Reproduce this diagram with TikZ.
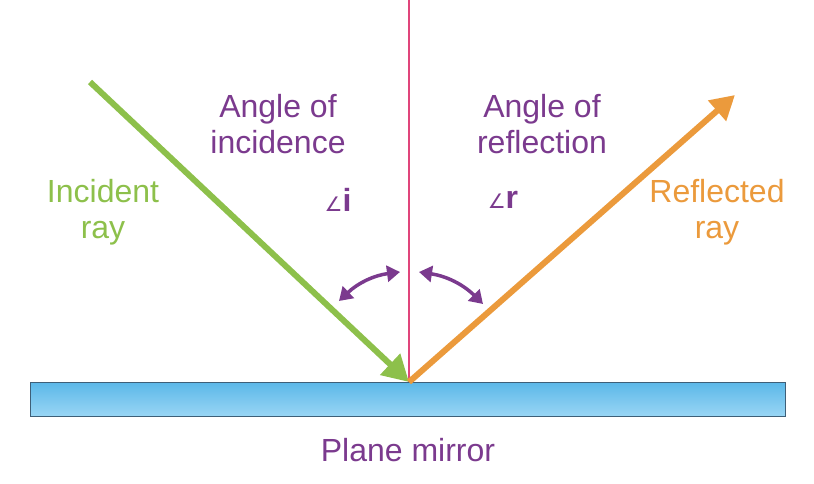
\documentclass[tikz,border=0pt]{standalone}
\usepackage{fontspec}
\setmainfont{Liberation Sans}
\newfontfamily\symfont{DejaVu Sans}
\usetikzlibrary{arrows.meta}
\definecolor{rgreen}{HTML}{8DC04B}
\definecolor{rorange}{HTML}{EB9A3C}
\definecolor{rpurple}{HTML}{7B3A8E}
\definecolor{rpink}{HTML}{E0457B}
\definecolor{mtop}{HTML}{5CB8E8}
\definecolor{mbot}{HTML}{9AD6F5}
\definecolor{mborder}{HTML}{3E5F78}
\tikzset{
  lbl/.style={font=\fontsize{32}{36}\selectfont, align=center, inner sep=0pt},
  ray/.style={line width=6pt},
  angarr/.style={rpurple, line width=3.5pt, {Triangle[length=13pt,width=16pt]}-{Triangle[length=13pt,width=16pt]}}
}
\begin{document}
\begin{tikzpicture}[x=1pt,y=-1pt]
\useasboundingbox (0,0) rectangle (814,484);
\node[draw=mborder, line width=1.2pt, top color=mtop, bottom color=mbot, minimum width=755pt, minimum height=34pt, anchor=north west, inner sep=0pt] (mirror) at (30,382) {};
\coordinate (O) at (409,382);
\coordinate (N) at (409,0);
\coordinate (S) at (90,82);
\coordinate (E) at (735,95);
\draw[rpink, line width=1.5pt] (O) -- (N);
\draw[ray, rgreen, -{Triangle[length=26pt,width=28pt]}] (S) -- (O);
\draw[ray, rorange, -{Triangle[length=24pt,width=26pt]}] (O) -- (E);
\coordinate (a1) at (339,301);
\coordinate (a2) at (400,272);
\coordinate (b1) at (419,272);
\coordinate (b2) at (483,304);
\draw[angarr] (a1) to[bend left=18] (a2);
\draw[angarr] (b1) to[bend left=18] (b2);
\node[lbl, text=rpurple] (ai) at (278,124) {Angle of\\incidence};
\node[lbl, text=rpurple] (ar) at (542,124) {Angle of\\reflection};
\node[lbl, text=rgreen] (inc) at (103,212) {Incident\\ray};
\node[lbl, text=rorange] (ref) at (717,212) {Reflected\\ray};
\node[lbl, text=rpurple] (ii) at (338,200) {{\symfont\fontsize{20}{22}\selectfont ∠}\textbf{i}};
\node[lbl, text=rpurple] (rr) at (503,200) {{\symfont\fontsize{20}{22}\selectfont ∠}\textbf{r}};
\node[lbl, text=rpurple] (pm) at (408,450) {Plane mirror};
\end{tikzpicture}
\end{document}
